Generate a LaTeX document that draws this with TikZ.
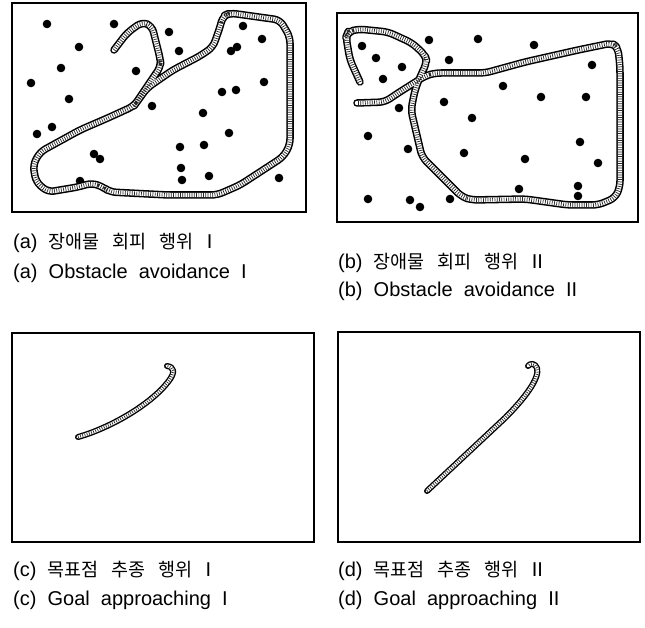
\documentclass[tikz,border=0pt]{standalone}
\usepackage{fontspec}
\setmainfont[WordSpace=2.0]{Liberation Sans}
\newfontfamily\kr{Noto Sans CJK KR}
\newcommand\ksp{\hspace{13pt}}
\newcommand\kfirst{\hspace{11pt}}
\tikzset{
  panel/.style={draw=black, line width=1.2pt},
  obst/.style={fill=black},
  traj/.style={draw=black, line width=7.5pt, rounded corners=6pt, line join=round, line cap=round,
    postaction={draw=white, line width=4.4pt, line cap=round},
    postaction={draw=black!85, line width=4pt, line cap=butt, dash pattern=on 0.7pt off 1.6pt}},
  trajthin/.style={draw=black, line width=6pt, line join=round, line cap=round,
    postaction={draw=white, line width=3.2pt, line cap=round},
    postaction={draw=black!85, line width=2.8pt, line cap=butt, dash pattern=on 0.7pt off 1.6pt}},
  lab/.style={anchor=west, inner sep=0pt, font=\fontsize{20}{24}\selectfont},
  klab/.style={anchor=west, inner sep=0pt, font=\fontsize{20}{24}\selectfont},
}
\begin{document}
\begin{tikzpicture}[x=1pt, y=-1pt]
\useasboundingbox (0,0) rectangle (645,628);
\fill[white] (0,0) rectangle (645,628);

% ---------- panel (a)
\draw[panel] (12,3) rectangle (306,212);
\foreach \p in {(47,24),(114,24),(169,32),(79,47),(179,51),(243,26),(262,39),(237,47),(231,51),
  (61,68),(136,71),(31,83),(264,82),(222,92),(236,90),(69,99),(152,106),(203,113),(52,127),
  (37,134),(229,133),(180,147),(204,145),(94,154),(100,159),(181,168),(209,176),(182,180),
  (80,181),(279,178)}
  \fill[obst] \p circle (4.3);
\draw[traj] (114,50) -- (127,33) -- (142,22) -- (152,26) -- (160,58) -- (161,66) -- (140,97)
  -- (134,106) -- (110,117) -- (80,130) -- (40,152) -- (33,165) -- (36,182) -- (48,192)
  -- (78,187) -- (92,183) -- (103,187) -- (110,192) -- (168,195) -- (217,195) -- (240,185)
  -- (283,157) -- (290,145) -- (290,37) -- (280,20) -- (230,13) -- (223,16) -- (220,27)
  -- (213,47) -- (200,56) -- (173,70) -- (147,88) -- (134,106);

% ---------- panel (b)
\draw[panel] (337,13) rectangle (638,222);
\foreach \p in {(362,46),(376,58),(402,67),(383,79),(429,40),(478,39),(534,45),(449,60),(592,65),
  (503,86),(541,97),(586,97),(444,102),(399,108),(472,118),(368,136),(408,149),(580,142),
  (464,153),(525,159),(598,163),(519,189),(578,186),(578,196),(368,199),(410,200),(420,207),(450,199)}
  \fill[obst] \p circle (4.3);
\draw[traj] (360,82) -- (350,60) -- (346,37) -- (348,32) -- (358,29) -- (388,32) -- (412,43)
  -- (425,55) -- (427,62) -- (420,77) -- (415,90) -- (411,110) -- (422,157) -- (435,170)
  -- (462,197) -- (472,200) -- (525,199) -- (568,205) -- (598,205) -- (615,198) -- (620,187)
  -- (620,67) -- (618,48) -- (612,43) -- (578,50) -- (525,62) -- (485,73) -- (435,73)
  -- (425,76) -- (395,95) -- (385,102) -- (357,103);

% ---------- panel (c)
\draw[panel] (12,333) rectangle (314,542);
\draw[trajthin] (78,437) .. controls (110,428) and (150,405) .. (168,382)
  .. controls (176,372) and (174,367) .. (167,366);

% ---------- panel (d)
\draw[panel] (338,332) rectangle (640,542);
\draw[trajthin] (427,491) -- (505,418) .. controls (525,398) and (540,378) .. (537,368)
  .. controls (535,363) and (530,363) .. (528,366);

% ---------- labels
\node[klab] (ak) at (13,243) {(a)\kfirst{\kr\fontsize{18.5}{22}\selectfont 장애물\ksp 회피\ksp 행위}\ksp I};
\node[lab] (ae) at (13,273) {(a) Obstacle avoidance I};
\node[klab] (bk) at (338,263) {(b)\kfirst{\kr\fontsize{18.5}{22}\selectfont 장애물\ksp 회피\ksp 행위}\ksp II};
\node[lab] (be) at (338,291) {(b) Obstacle avoidance II};
\node[klab] (ck) at (13,571) {(c)\kfirst{\kr\fontsize{18.5}{22}\selectfont 목표점\ksp 추종\ksp 행위}\ksp I};
\node[lab] (ce) at (13,600) {(c) Goal approaching I};
\node[klab] (dk) at (338,571) {(d)\kfirst{\kr\fontsize{18.5}{22}\selectfont 목표점\ksp 추종\ksp 행위}\ksp II};
\node[lab] (de) at (338,600) {(d) Goal approaching II};
\end{tikzpicture}
\end{document}
